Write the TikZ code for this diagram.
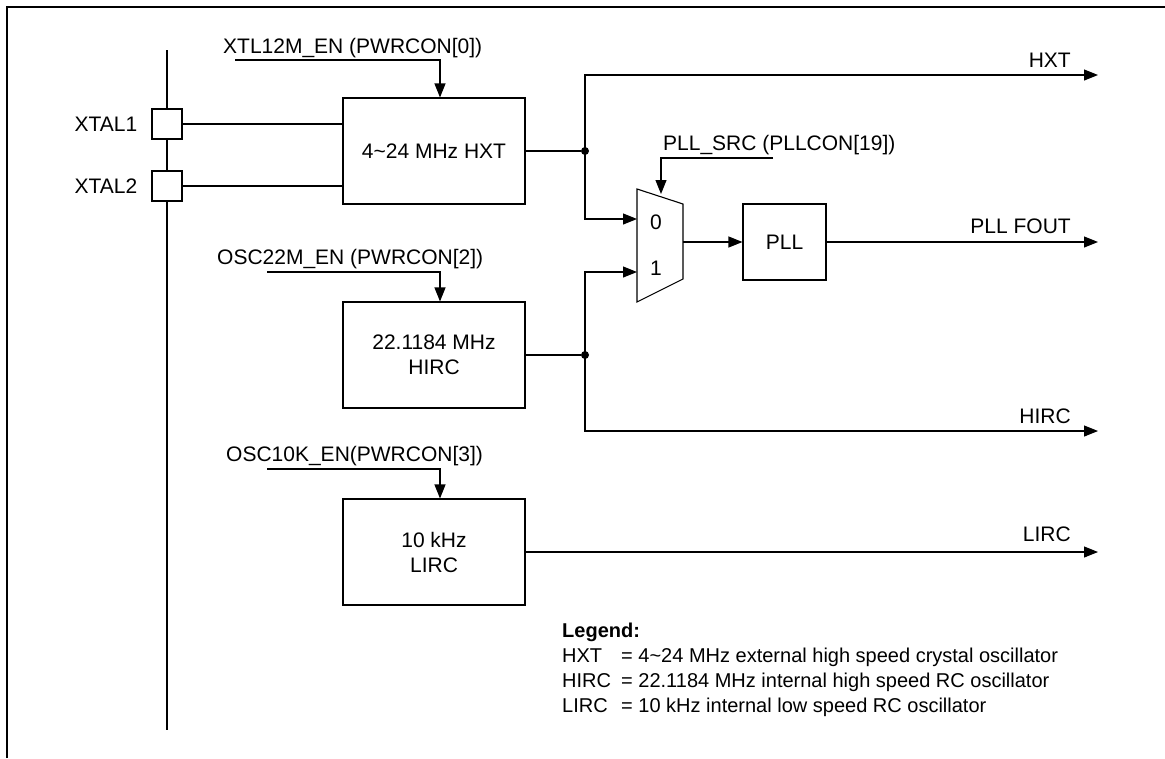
\documentclass[tikz,border=0pt]{standalone}
\usepackage{fontspec}
\setmainfont{Liberation Sans}
\usetikzlibrary{arrows.meta, positioning, calc}

\begin{document}
\begin{tikzpicture}[
  x=1pt, y=-1pt,
  every node/.style={font=\fontsize{21}{25}\selectfont, inner sep=0pt},
  box/.style={draw, line width=1.1pt, minimum width=182pt, minimum height=106pt,
              align=center},
  pad/.style={draw, line width=1.1pt, fill=white, minimum size=30pt},
  wire/.style={line width=1.1pt},
  arr/.style={wire, -{Triangle[length=14pt, width=11pt]}},
  dot/.style={circle, fill, minimum size=8pt},
  outlbl/.style={anchor=base east},
  enlbl/.style={anchor=base west},
  legend/.style={anchor=base west, font=\fontsize{20}{24}\selectfont}
]
\useasboundingbox (0,0) rectangle (1165,758);
\draw[line width=2.2pt] (7,758) -- (7,7) -- (1165,7);

% crystal pins
\coordinate (bustop) at (167,50);
\coordinate (busbot) at (167,730);
\draw[line width=2pt] (bustop) -- (busbot);
\node[pad] (xtal1) at (167,124) {};
\node[pad] (xtal2) at (167,186) {};
\node[left=14pt of xtal1] (xtal1lbl) {XTAL1};
\node[left=14pt of xtal2] (xtal2lbl) {XTAL2};

% oscillators
\node[box] (hxt)  at (434,151) {4\textasciitilde24 MHz HXT};
\node[box] (hirc) at (434,355) {22.1184 MHz\\HIRC};
\node[box] (lirc) at (434,552) {10 kHz\\LIRC};

\draw[wire] (xtal1.east) -- (xtal1.east -| hxt.west);
\draw[wire] (xtal2.east) -- (xtal2.east -| hxt.west);

% enable bits
\node[enlbl] (en12m) at (223,53)  {XTL12M\_EN (PWRCON[0])};
\node[enlbl] (en22m) at (217,264) {OSC22M\_EN (PWRCON[2])};
\node[enlbl] (en10k) at (226,461) {OSC10K\_EN(PWRCON[3])};
\coordinate (en12m-in) at (235,60);
\coordinate (en22m-in) at (267,272);
\coordinate (en10k-in) at (267,469);
\draw[arr] (en12m-in) -| ([xshift=6pt]hxt.north);
\draw[arr] (en22m-in) -| ([xshift=6pt]hirc.north);
\draw[arr] (en10k-in) -| ([xshift=6pt]lirc.north);

% clock mux
\draw[line width=1.1pt] (637,189) -- (683,204) -- (683,279) -- (637,302) -- cycle;
\coordinate (mux-in0) at (637,219);
\coordinate (mux-in1) at (637,272);
\coordinate (mux-out) at (683,242);
\coordinate (mux-sel) at (661,194);
\node (mux0) at (656,222) {0};
\node (mux1) at (656,268) {1};

\node[enlbl] (pllsrc) at (663,150) {PLL\_SRC (PLLCON[19])};
\coordinate (pllsrc-in) at (773,158);
\draw[arr] (pllsrc-in) -| (mux-sel);

\node[draw, line width=1.1pt, minimum width=83pt, minimum height=76pt]
  (pll) at (784.5,242) {PLL};
\draw[arr] (mux-out) -- (pll.west);

% taps and outputs
\node[dot] (j1) at (585,151) {};
\node[dot] (j2) at (585,355) {};
\draw[wire] (hxt.east)  -- (j1);
\draw[wire] (hirc.east) -- (j2);
\draw[arr] (j1.center) |- (mux-in0);
\draw[arr] (j2.center) |- (mux-in1);

\coordinate (hxt-out)  at (1098,75);
\coordinate (pll-out)  at (1098,242);
\coordinate (hirc-out) at (1098,431);
\coordinate (lirc-out) at (1098,552);
\draw[arr] (j1.center) |- (hxt-out);
\draw[arr] (pll.east)  -- (pll-out);
\draw[arr] (j2.center) |- (hirc-out);
\draw[arr] (lirc.east) -- (lirc-out);
\node[outlbl] at (1071,67)  {HXT};
\node[outlbl] at (1071,233) {PLL FOUT};
\node[outlbl] at (1071,423) {HIRC};
\node[outlbl] at (1071,541) {LIRC};

% legend
\node[legend] (leg) at (562,637) {\bfseries Legend:};
\foreach \y/\name/\desc in {
  662/HXT/4\textasciitilde24 MHz external high speed crystal oscillator,
  687/HIRC/22.1184 MHz internal high speed RC oscillator,
  712/LIRC/10 kHz internal low speed RC oscillator} {
  \node[legend] at (562,\y) {\name};
  \node[legend] at (621,\y) {= \desc};
}
\end{tikzpicture}
\end{document}
